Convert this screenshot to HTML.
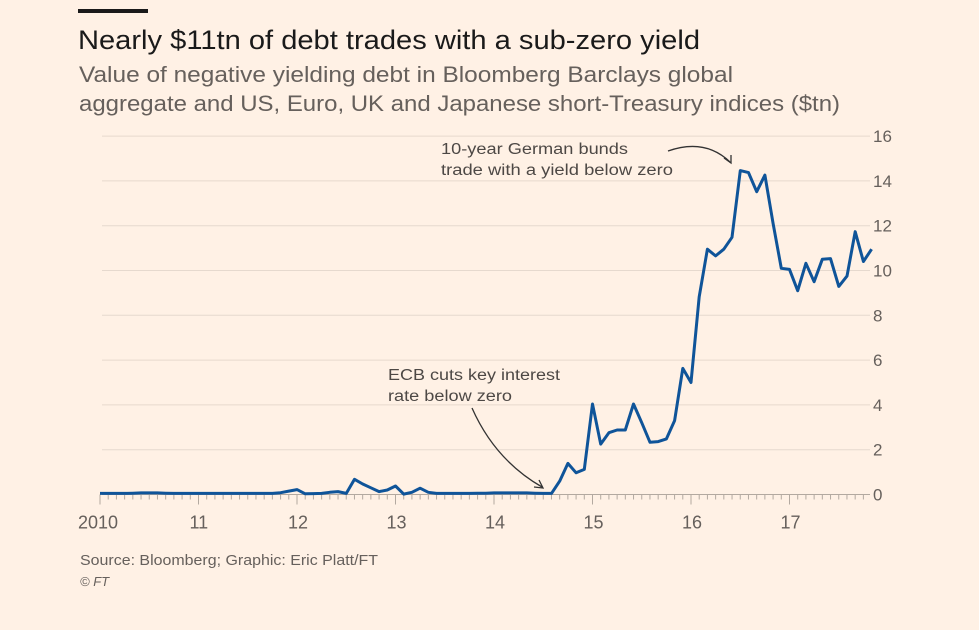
<!DOCTYPE html>
<html><head><meta charset="utf-8"><style>
html,body{margin:0;padding:0;background:#fff1e5;}
body{width:979px;height:630px;overflow:hidden;position:relative;font-family:"Liberation Sans",sans-serif;}
svg{position:absolute;left:0;top:0}
</style></head><body>
<svg width="979" height="630">
<rect x="78" y="9" width="70" height="4" fill="#1a1a1a"/>
<text x="78" y="49" font-size="27" fill="#1a1a1a" textLength="622" lengthAdjust="spacingAndGlyphs">Nearly $11tn of debt trades with a sub-zero yield</text>
<text x="79" y="82" font-size="22" fill="#66605c" textLength="654" lengthAdjust="spacingAndGlyphs">Value of negative yielding debt in Bloomberg Barclays global</text>
<text x="79" y="111" font-size="22" fill="#66605c" textLength="761" lengthAdjust="spacingAndGlyphs">aggregate and US, Euro, UK and Japanese short-Treasury indices ($tn)</text>
<g id="grid"></g><g id="axes"></g><g id="series"></g>
<text x="441" y="154" font-size="15.5" fill="#4d4845" textLength="187" lengthAdjust="spacingAndGlyphs">10-year German bunds</text>
<text x="441" y="175" font-size="15.5" fill="#4d4845" textLength="232" lengthAdjust="spacingAndGlyphs">trade with a yield below zero</text>
<path d="M668 151 Q705 138 730 162" fill="none" stroke="#333" stroke-width="1.3"/>
<path d="M724 158 L731 163 L731 155" fill="none" stroke="#333" stroke-width="1.3"/>
<text x="388" y="380" font-size="15.5" fill="#4d4845" textLength="172" lengthAdjust="spacingAndGlyphs">ECB cuts key interest</text>
<text x="388" y="401" font-size="15.5" fill="#4d4845" textLength="124" lengthAdjust="spacingAndGlyphs">rate below zero</text>
<path d="M472 408 Q495 460 542 487" fill="none" stroke="#333" stroke-width="1.3"/>
<path d="M534 487 L543 488 L539 480" fill="none" stroke="#333" stroke-width="1.3"/>
<text x="80" y="565" font-size="14.5" fill="#66605c" textLength="298" lengthAdjust="spacingAndGlyphs">Source: Bloomberg; Graphic: Eric Platt/FT</text>
<text x="80" y="586" font-size="13" font-style="italic" fill="#66605c">© FT</text>
</svg>
<script>
const yTicks=[0,2,4,6,8,10,12,14,16];
const yearLabels=["2010","11","12","13","14","15","16","17"];
const values=[0.05,0.05,0.05,0.05,0.06,0.07,0.07,0.07,0.06,0.05,0.05,0.05,
0.05,0.05,0.05,0.05,0.05,0.05,0.05,0.05,0.05,0.05,0.08,0.15,
0.22,0.03,0.04,0.05,0.1,0.13,0.05,0.68,0.47,0.3,0.13,0.2,
0.38,0.02,0.1,0.28,0.1,0.05,0.05,0.05,0.05,0.05,0.06,0.06,
0.07,0.07,0.07,0.07,0.07,0.06,0.05,0.05,0.6,1.39,0.97,1.12,
4.04,2.25,2.76,2.88,2.88,4.04,3.2,2.33,2.36,2.48,3.3,5.63,
5.0,8.83,10.95,10.65,10.95,11.48,14.46,14.37,13.52,14.26,12.1,10.1,
10.05,9.1,10.32,9.5,10.5,10.53,9.29,9.75,11.73,10.4,10.95];
const NS="http://www.w3.org/2000/svg";
const x0=100,pxYear=98.5,y0=494.5,pxUnit=22.4,gx1=102,gx2=870;
const xs=m=>x0+m*pxYear/12, ys=v=>y0-v*pxUnit;
function mk(t,a,p){const e=document.createElementNS(NS,t);for(const k in a)e.setAttribute(k,a[k]);p.appendChild(e);return e;}
const grid=document.getElementById('grid'),axes=document.getElementById('axes'),ser=document.getElementById('series');
yTicks.forEach(v=>{
 if(v>0){const l=mk('line',{x1:gx1,x2:gx2,y1:ys(v),y2:ys(v),stroke:'#e6d9ce','stroke-width':1},grid);
 
 }
 const t=mk('text',{x:873,y:ys(v)+6,'font-size':17,fill:'#66605c'},axes);t.textContent=v;
 
 
});
const ax=mk('line',{x1:gx1,x2:gx2,y1:y0,y2:y0,stroke:'#b3a9a0','stroke-width':1},axes);


for(let m=0;m<=94;m++){const x=xs(m);if(x>gx2)break;const big=m%12===0;
 mk('line',{x1:x,x2:x,y1:y0,y2:y0+(big?10:5),stroke:'#b3a9a0','stroke-width':1},axes);}
yearLabels.forEach((lab,i)=>{const t=mk('text',{x:xs(i*12)+(i===0?-22:-9),y:y0+34,'font-size':18,fill:'#66605c'},axes);t.textContent=lab;
 
 });
const d=values.map((v,i)=>(i?'L':'M')+xs(i).toFixed(1)+' '+ys(v).toFixed(1)).join(' ');
const p=mk('path',{d:d,fill:'none',stroke:'#0f5499','stroke-width':3,'stroke-linejoin':'round'},ser);


</script>
</body></html>
